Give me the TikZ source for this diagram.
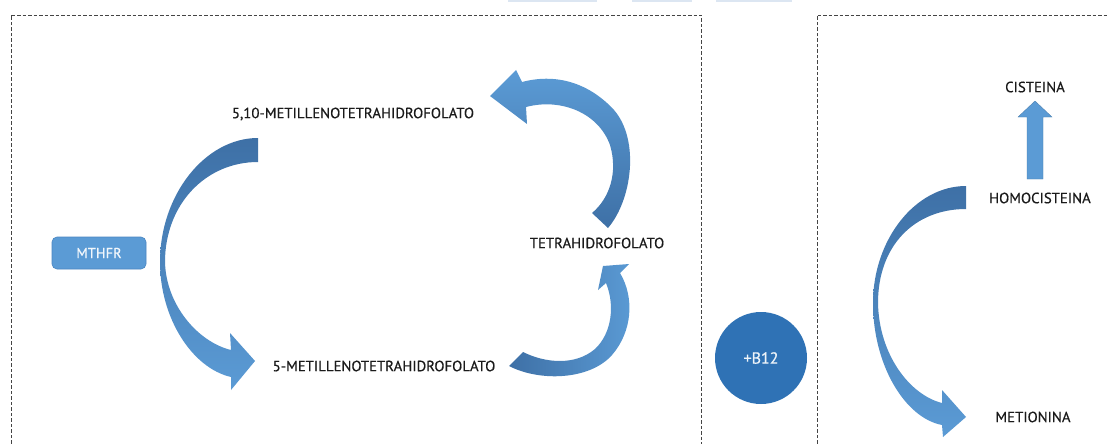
\documentclass[tikz,border=0pt]{standalone}
\usepackage{fontspec}
\setmainfont{PT Sans}
\newfontfamily\lblfont{PT Sans}[FakeBold=0.5]
\definecolor{arrlight}{HTML}{5B9BD5}
\definecolor{arrdark}{HTML}{3E70A6}
\definecolor{circblue}{HTML}{2F72B5}
\definecolor{boxedge}{HTML}{4A86C2}
\definecolor{tabblue}{HTML}{DCE6F2}
\definecolor{labelgray}{HTML}{1A1A1A}
\definecolor{dashgray}{HTML}{444444}
\tikzset{
  lbl/.style={font=\lblfont\fontsize{14.8}{17}\selectfont, text=labelgray, inner sep=0pt},
  panel/.style={draw=dashgray, line width=0.9pt, dash pattern=on 3.5pt off 2pt},
  blockarrow/.style={draw=arrlight!80!black, line width=0.3pt},
}
\begin{document}
\begin{tikzpicture}[x=1pt,y=-1pt]
\useasboundingbox (0,0) rectangle (1108,444);
\clip (0,0) rectangle (1108,444);
\fill[white] (0,0) rectangle (1108,444);
% cropped tabs at top
\fill[tabblue] (508,-3) rectangle (597,2);
\fill[tabblue] (632,-3) rectangle (692,2);
\fill[tabblue] (716,-3) rectangle (792,2);
% dashed panels
\draw[panel] (11,460) -- (11,15) -- (701,15) -- (701,460);
\draw[panel] (817,460) -- (817,15) -- (1120,15);

% labels
\node[lbl] (m510) at (353,114) {5,10-METILLENOTETRAHIDROFOLATO};
\node[lbl] (thf) at (597,243) {TETRAHIDROFOLATO};
\node[lbl] (m5) at (384,366) {5-METILLENOTETRAHIDROFOLATO};
\node[lbl] (cis) at (1035,87) {CISTEINA};
\node[lbl] (hom) at (1040,198) {HOMOCISTEINA};
\node[lbl] (met) at (1033,417) {METIONINA};

% MTHFR box
\node[draw=boxedge, fill=arrlight, rounded corners=5pt, minimum width=94pt, minimum height=32pt,
      text=white!92!arrlight, font=\lblfont\fontsize{14.5}{17}\selectfont, line width=0.6pt] (mthfr) at (99,253) {MTHFR};
% B12 circle
\node[circle, fill=circblue, minimum size=92pt, inner sep=0pt, text=white!92!circblue,
      font=\lblfont\fontsize{16}{18}\selectfont] (b12) at (761,358) {+B12};

% left curved arrow (5,10 -> 5-metil)
\shade[top color=arrdark, bottom color=arrlight]
  (258,138) .. controls (205,138) and (160,195) .. (160,262)
  .. controls (160,318) and (192,368) .. (231,377)
  -- (231,390) -- (255,361) -- (230,333) -- (231,350)
  .. controls (198,342) and (166,305) .. (165,262)
  .. controls (165,205) and (205,162) .. (258,162) -- cycle;

% top-right curved arrow (THF -> 5,10)
\shade[top color=arrlight, bottom color=arrdark]
  (608,228) .. controls (632,200) and (640,140) .. (614,110)
  .. controls (592,86) and (560,72) .. (522,82)
  -- (516,70) -- (490,96) -- (527,124) -- (526,107)
  .. controls (560,98) and (598,112) .. (610,145)
  .. controls (618,172) and (610,198) .. (592,213) -- cycle;

% bottom-right curved arrow (5-metil -> THF)
\shade[left color=arrdark, right color=arrlight]
  (509,366) .. controls (540,382) and (590,380) .. (612,355)
  .. controls (632,332) and (635,298) .. (620,273)
  -- (629,264) -- (603,266) -- (598,290) -- (606,283)
  .. controls (615,305) and (612,333) .. (595,349)
  .. controls (575,366) and (545,363) .. (523,352) -- cycle;

% right panel curved arrow (homocisteina -> metionina)
\shade[top color=arrdark, bottom color=arrlight]
  (966,186) .. controls (915,186) and (873,240) .. (873,303)
  .. controls (873,365) and (905,418) .. (942,425)
  -- (943,437) -- (966,417) -- (942,390) -- (942,403)
  .. controls (910,395) and (879,355) .. (878,303)
  .. controls (878,245) and (915,209) .. (966,209) -- cycle;

% straight up arrow (homocisteina -> cisteina)
\coordinate (upbase) at (1035,179);
\coordinate (uptip) at (1035,101);
\fill[arrlight, blockarrow]
  (1027,179) -- (1027,117) -- (1018,117) -- (uptip) -- (1052,117) -- (1043,117) -- (1043,179) -- cycle;
\end{tikzpicture}
\end{document}
